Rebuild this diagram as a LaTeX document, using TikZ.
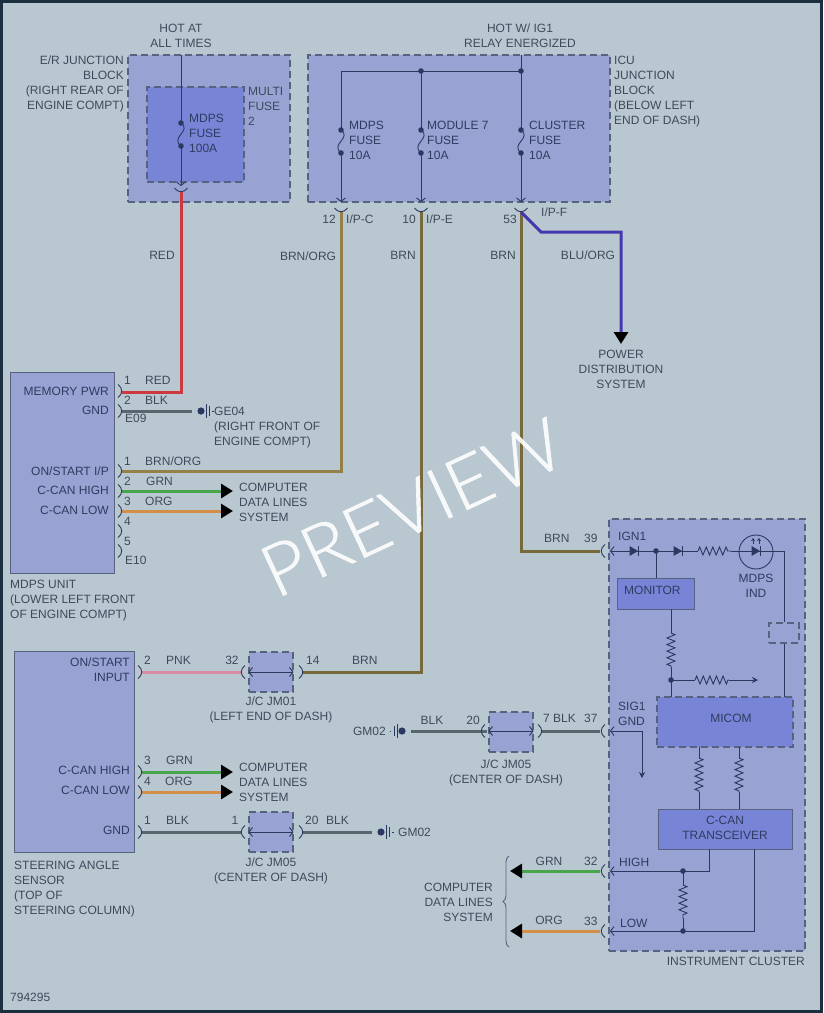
\documentclass[tikz,border=0pt]{standalone}
\usepackage{fontspec}
\setmainfont{Liberation Sans}
\newfontfamily\previewfont{Lato Light}[FakeStretch=1.05,FakeBold=0.8]
\usetikzlibrary{arrows.meta,decorations.pathmorphing,decorations.pathreplacing}
\definecolor{frameclr}{HTML}{1C2F3E}
\definecolor{panelclr}{HTML}{B9C8D0}
\definecolor{blockclr}{HTML}{98A3D4}
\definecolor{darkclr}{HTML}{7885D6}
\definecolor{edgeclr}{HTML}{56627F}
\definecolor{lineclr}{HTML}{2C3860}
\definecolor{txtclr}{HTML}{3E4A5C}
\definecolor{redclr}{HTML}{CC3A40}
\definecolor{blkclr}{HTML}{5A666E}
\definecolor{tanclr}{HTML}{958048}
\definecolor{brnclr}{HTML}{77693A}
\definecolor{bluclr}{HTML}{4438B0}
\definecolor{grnclr}{HTML}{47A64C}
\definecolor{orgclr}{HTML}{D48E48}
\definecolor{pnkclr}{HTML}{DA8CA4}
\tikzset{
  lab/.style={font=\fontsize{12}{15}\selectfont, text=txtclr, inner sep=0pt, text height=8.6pt, text depth=0pt, align=center},
  labl/.style={lab, anchor=west, align=left},
  labr/.style={lab, anchor=east, align=right},
  inbox/.style={text=lineclr!85!txtclr},
  dbox/.style={draw=edgeclr, line width=1.1pt, dash pattern=on 7pt off 4pt, fill=blockclr, inner sep=0pt},
  sbox/.style={draw=edgeclr, line width=1pt, fill=blockclr, inner sep=0pt},
  thinw/.style={draw=lineclr, line width=0.9pt},
  barb/.style={thinw, -{Straight Barb[length=3.5pt,width=9pt]}},
  dbarb/.style={thinw, {Straight Barb[length=3.5pt,width=9pt]}-{Straight Barb[length=3.5pt,width=9pt]}},
  wire/.style={line width=3pt},
  bigtip/.style={-{Triangle[length=12pt,width=14pt,color=black]}},
  resistor/.style={thinw, decorate, decoration={zigzag, amplitude=4pt, segment length=6.6pt}},
  cup/.pic={\draw[thinw] (-6.5,-2) .. controls (-3,3) and (3,3) .. (6.5,-2);},
  diode/.pic={\fill[lineclr] (-4.5,-5) -- (4,0) -- (-4.5,5) -- cycle; \draw[thinw] (4,-5) -- (4,5);},
  gnd/.pic={\fill[lineclr] (0,0) circle (3.6pt);
    \draw[thinw] (5,-7) -- (5,7); \draw[thinw] (8,-5) -- (8,5); \draw[thinw] (11,0) -- (12.5,0);},
}
\begin{document}
\begin{tikzpicture}[x=1pt,y=-1pt]
    \useasboundingbox (0,0) rectangle (823,1013);
    % Panel
    \fill[frameclr] (0,0) rectangle (823,1013);
    \fill[panelclr] (3,3) rectangle (820,1010);

    % Blocks
    \node[dbox, minimum width=162pt, minimum height=147pt] (erblock) at (209,128.5) {};
    \node[dbox, fill=darkclr, minimum width=97pt, minimum height=95pt] (multifuse) at (195.5,134.5) {};
    \node[dbox, minimum width=302pt, minimum height=147pt] (icublock) at (459,128.5) {};
    \node[sbox, minimum width=104pt, minimum height=201pt] (mdpsunit) at (62,472.5) {};
    \node[sbox, minimum width=120pt, minimum height=201pt] (sasensor) at (74.5,752) {};
    \node[dbox, minimum width=44pt, minimum height=40pt] (jm01) at (271,672) {};
    \node[dbox, minimum width=44pt, minimum height=40pt] (jm05a) at (271,832) {};
    \node[dbox, minimum width=44pt, minimum height=40pt] (jm05b) at (511,732) {};
    \node[dbox, minimum width=196pt, minimum height=432pt] (cluster) at (707,735) {};
    \node[sbox, fill=darkclr, minimum width=77pt, minimum height=31pt] (monitor) at (655.5,593.5) {};
    \node[dbox, minimum width=30pt, minimum height=20pt] (ledbox) at (784,633) {};
    \node[dbox, fill=darkclr, minimum width=136pt, minimum height=50pt] (micom) at (725,722) {};
    \node[sbox, fill=darkclr, minimum width=134pt, minimum height=40pt] (transceiver) at (725,829) {};
    \draw[lineclr, line width=0.9pt] (756,552) circle (17pt);

    % Points the wires run between
    \coordinate (erout) at (181,192);
    \coordinate (ipc) at (341,212);
    \coordinate (ipe) at (421,212);
    \coordinate (ipf) at (521,212);
    \coordinate (memory) at (122,392);
    \coordinate (gnde) at (122,411);
    \coordinate (onstart) at (122,471);
    \coordinate (canhi) at (122,491);
    \coordinate (canlo) at (122,511);
    \coordinate (sainput) at (142,672);
    \coordinate (sahi) at (142,772);
    \coordinate (salo) at (142,792);
    \coordinate (sagnd) at (142,832);
    \coordinate (pin39) at (600,551);
    \coordinate (pin37) at (600,731);
    \coordinate (pin32) at (600,871);
    \coordinate (pin33) at (600,931);
    \coordinate (jm01l) at (241,672);
    \coordinate (jm01r) at (303,672);
    \coordinate (jm05l) at (241,832);
    \coordinate (jm05r) at (303,832);
    \coordinate (jm05bl) at (487,731);
    \coordinate (jm05br) at (542,731);
    \coordinate (ge04) at (192,411);
    \coordinate (gm02a) at (411,731);
    \coordinate (gm02b) at (372,832);
    \coordinate (dataa) at (233,491);
    \coordinate (datab) at (233,511);
    \coordinate (datac) at (233,772);
    \coordinate (datad) at (233,792);
    \coordinate (datae) at (510,871);
    \coordinate (dataf) at (510,931);
    \coordinate (powerdist) at (621,344);

    % Wires
    \draw[wire, redclr] (erout) |- (memory);
    \draw[wire, blkclr] (gnde) -- (ge04);
    \draw[wire, tanclr] (ipc) |- (onstart);
    \draw[wire, brnclr] (ipe) |- (jm01r);
    \draw[wire, brnclr] (ipf) |- (pin39);
    \draw[wire, bluclr, bigtip] (ipf) -- (541,232) -| (powerdist);
    \draw[wire, grnclr, bigtip] (canhi) -- (dataa);
    \draw[wire, orgclr, bigtip] (canlo) -- (datab);
    \draw[wire, pnkclr] (sainput) -- (jm01l);
    \draw[wire, grnclr, bigtip] (sahi) -- (datac);
    \draw[wire, orgclr, bigtip] (salo) -- (datad);
    \draw[wire, blkclr] (sagnd) -- (jm05l);
    \draw[wire, blkclr] (jm05r) -- (gm02b);
    \draw[wire, blkclr] (gm02a) -- (jm05bl);
    \draw[wire, blkclr] (jm05br) -- (pin37);
    \draw[wire, grnclr, bigtip] (pin32) -- (datae);
    \draw[wire, orgclr, bigtip] (pin33) -- (dataf);

    % Fuses
    \foreach \fx/\fa/\ftop/\fend in {181/123/55/186, 341/130/71/202, 421/130/71/202, 521/130/55/202} {
      \draw[thinw] (\fx,\ftop) -- (\fx,\fa);
      \draw[barb] (\fx,\fa+23) -- (\fx,\fend);
      \draw[thinw] (\fx,\fa) .. controls (\fx+11,\fa+8) and (\fx-11,\fa+14) .. (\fx,\fa+23);
      \fill[lineclr] (\fx,\fa) circle (2.8pt) (\fx,\fa+23) circle (2.8pt);
    }
    \draw[thinw] (341,130) |- (521,71);
    \fill[lineclr] (421,71) circle (2.8pt) (521,71) circle (2.8pt);

    % Connector cups
    \foreach \cx/\cy in {181/190, 341/210, 421/210, 521/210}
      \pic at (\cx,\cy) {cup};
    \foreach \cy in {391,411,471,491,511,531,551}
      \pic[rotate=90] at (120,\cy) {cup};
    \foreach \cy in {672,772,792,832}
      \pic[rotate=90] at (140,\cy) {cup};
    \foreach \cx/\cy in {301/672, 301/832, 540/731}
      \pic[rotate=90] at (\cx,\cy) {cup};
    \foreach \cx/\cy in {243/672, 243/832, 483/731, 603/551, 603/731, 603/871, 603/931}
      \pic[rotate=-90] at (\cx,\cy) {cup};

    % Splices and grounds
    \draw[dbarb] (jm01.west) -- (jm01.east);
    \draw[dbarb] (jm05a.west) -- (jm05a.east);
    \draw[dbarb] ([yshift=1pt]jm05b.west) -- ([yshift=1pt]jm05b.east);
    \pic at (201,411) {gnd};
    \pic at (381,832) {gnd};
    \pic[xscale=-1] at (402,731) {gnd};

    % Inside the cluster
    \coordinate (ign) at (610,551);
    \coordinate (sig) at (610,731);
    \coordinate (high) at (610,871);
    \coordinate (low) at (610,931);
    \draw[barb] (656,551) -- (ign);
    \draw[thinw] (656,551) -- (698,551);
    \draw[resistor] (698,551) -- (731,551);
    \draw[thinw] (731,551) -- (784,551) -- (ledbox.north);
    \draw[thinw] (ledbox.south) -- (784,697);
    \pic at (634,551) {diode};
    \pic at (678,551) {diode};
    \pic at (756,551) {diode};
    \fill[lineclr] (656,551) circle (2.8pt);
    \draw[thinw] (656,551) -- (656,578);
    \foreach \ax in {753,759}
      \draw[thinw, -{Stealth[length=3pt,width=4pt]}] (\ax,544) -- (\ax,538);
    \draw[thinw] (671,609) -- (671,633);
    \draw[resistor] (671,633) -- (671,667);
    \draw[thinw] (671,667) -- (671,697);
    \fill[lineclr] (671,680) circle (2.8pt);
    \draw[thinw] (671,680) -- (695,680);
    \draw[resistor] (695,680) -- (729,680);
    \draw[thinw, -{Stealth[length=6pt,width=6pt]}] (729,680) -- (758,680);
    \draw[barb] (642,731) -- (sig);
    \draw[thinw, -{Stealth[length=6pt,width=6pt]}] (642,731) -- (642,778);
    \foreach \rx in {699,739} {
      \draw[thinw] (\rx,747) -- (\rx,758);
      \draw[resistor] (\rx,758) -- (\rx,792);
      \draw[thinw] (\rx,792) -- (\rx,809);
    }
    \draw[barb] (709,849) |- (high);
    \draw[barb] (754,849) |- (low);
    \draw[thinw] (683,871) -- (683,885);
    \draw[resistor] (683,885) -- (683,918);
    \draw[thinw] (683,918) -- (683,931);
    \fill[lineclr] (683,871) circle (2.8pt) (683,931) circle (2.8pt);
    \draw[thinw, edgeclr, decorate, decoration={brace, amplitude=6pt}] (509,947) -- (509,856);

    % Labels, top (a stack of lines is placed by its last line)
    \node[lab] (hotat) at (181,43) {HOT AT\\ALL TIMES};
    \node[labr] (erlabel) at (124,105) {E/R JUNCTION\\BLOCK\\(RIGHT REAR OF\\ENGINE COMPT)};
    \node[labl] (multilabel) at (248,121) {MULTI\\FUSE\\2};
    \node[lab] (hotig) at (520,43) {HOT W/ IG1\\RELAY ENERGIZED};
    \node[labl] (iculabel) at (614,120) {ICU\\JUNCTION\\BLOCK\\(BELOW LEFT\\END OF DASH)};
    \node[labl, inbox] (fusea) at (189,148) {MDPS\\FUSE\\100A};
    \node[labl, inbox] (fuseb) at (349,155) {MDPS\\FUSE\\10A};
    \node[labl, inbox] (fusec) at (427,155) {MODULE 7\\FUSE\\10A};
    \node[labl, inbox] (fused) at (529,155) {CLUSTER\\FUSE\\10A};
    \node[labr] (p12) at (336,219) {12};
    \node[labl] (ipclab) at (346,219) {I/P-C};
    \node[labr] (p10) at (416,219) {10};
    \node[labl] (ipelab) at (426,219) {I/P-E};
    \node[labr] (p53) at (517,219) {53};
    \node[labl] (ipflab) at (541,212) {I/P-F};
    \node[lab] (wred) at (162,255) {RED};
    \node[lab] (wbrnorg) at (308,256) {BRN/ORG};
    \node[lab] (wbrna) at (403,255) {BRN};
    \node[lab] (wbrnb) at (503,255) {BRN};
    \node[lab] (wbluorg) at (588,255) {BLU/ORG};
    \node[lab] (powerlab) at (621,384) {POWER\\DISTRIBUTION\\SYSTEM};

    % Labels, MDPS unit
    \node[labr, inbox] (t1) at (109,391) {MEMORY PWR};
    \node[labr, inbox] (t2) at (109,410) {GND};
    \node[labr, inbox] (t3) at (109,471) {ON/START I/P};
    \node[labr, inbox] (t4) at (109,490) {C-CAN HIGH};
    \node[labr, inbox] (t5) at (109,510) {C-CAN LOW};
    \foreach \pn/\py in {1/380,2/400,1/461,2/481,3/501,4/521,5/541}
      \node[labl] (pin\py) at (124,\py) {\pn};
    \node[labl] (e09) at (125,418) {E09};
    \node[labl] (e10) at (125,560) {E10};
    \node[labl] (c1) at (145,380) {RED};
    \node[labl] (c2) at (145,400) {BLK};
    \node[labl] (c3) at (145,461) {BRN/ORG};
    \node[labl] (c4) at (146,481) {GRN};
    \node[labl] (c5) at (145,501) {ORG};
    \node[labl] (ge04lab) at (214,441) {GE04\\(RIGHT FRONT OF\\ENGINE COMPT)};
    \node[labl] (dataone) at (239,517) {COMPUTER\\DATA LINES\\SYSTEM};
    \node[labl] (mdpslab) at (10,614) {MDPS UNIT\\(LOWER LEFT FRONT\\OF ENGINE COMPT)};

    % Labels, steering angle sensor
    \node[labr, inbox] (s1) at (130,677) {ON/START\\INPUT};
    \node[labr, inbox] (s2) at (130,770) {C-CAN HIGH};
    \node[labr, inbox] (s3) at (130,790) {C-CAN LOW};
    \node[labr, inbox] (s4) at (130,830) {GND};
    \foreach \pn/\py in {2/660,3/760,4/781,1/820}
      \node[labl] (sp\py) at (144,\py) {\pn};
    \node[labl] (w1) at (166,660) {PNK};
    \node[labl] (w2) at (166,760) {GRN};
    \node[labl] (w3) at (165,781) {ORG};
    \node[labl] (w4) at (166,820) {BLK};
    \node[lab] (j32) at (232,660) {32};
    \node[lab] (j1) at (235,820) {1};
    \node[labl] (j14) at (306,660) {14};
    \node[labl] (w5) at (352,660) {BRN};
    \node[labl] (j20) at (305,820) {20};
    \node[labl] (w6) at (326,820) {BLK};
    \node[lab] (jm01lab) at (271,716) {J/C JM01\\(LEFT END OF DASH)};
    \node[lab] (jm05lab) at (271,877) {J/C JM05\\(CENTER OF DASH)};
    \node[labl] (datatwo) at (239,797) {COMPUTER\\DATA LINES\\SYSTEM};
    \node[labl] (gm02lab) at (398,832) {GM02};
    \node[labl] (salab) at (14,910) {STEERING ANGLE\\SENSOR\\(TOP OF\\STEERING COLUMN)};

    % Labels, instrument cluster
    \node[labl] (w7) at (544,538) {BRN};
    \node[labl] (p39) at (584,538) {39};
    \node[labl, inbox] (ign1) at (618,536) {IGN1};
    \node[lab, inbox] (lamplab) at (756,593) {MDPS\\IND};
    \node[labl, inbox] (monlab) at (624,590) {MONITOR};
    \node[lab, inbox] (miclab) at (731,718) {MICOM};
    \node[lab, inbox] (canlab) at (725,835) {C-CAN\\TRANSCEIVER};
    \node[labl, inbox] (siglab) at (618,721) {SIG1\\ GND};
    \node[labr] (gm02c) at (386,731) {GM02};
    \node[lab] (w8) at (432,720) {BLK};
    \node[lab] (j20b) at (473,720) {20};
    \node[labl] (j7) at (543,718) {7 BLK};
    \node[labl] (p37) at (584,718) {37};
    \node[lab] (jm05lab2) at (506,779) {J/C JM05\\(CENTER OF DASH)};
    \node[lab] (w9) at (549,861) {GRN};
    \node[lab] (w10) at (549,920) {ORG};
    \node[labl] (p32) at (584,861) {32};
    \node[labl] (p33) at (584,921) {33};
    \node[labl, inbox] (hilab) at (619,862) {HIGH};
    \node[labl, inbox] (lolab) at (620,923) {LOW};
    \node[labr] (datathree) at (493,917) {COMPUTER\\DATA LINES\\SYSTEM};
    \node[labr] (cluslab) at (805,961) {INSTRUMENT CLUSTER};
    \node[labl] (partno) at (10,997) {794295};

    % Watermark
    \node[inner sep=0pt, text=white, opacity=0.88, rotate=25, anchor=base west,
      font=\fontsize{72}{72}\selectfont\previewfont] (preview) at (276,599) {PREVIEW};
\end{tikzpicture}
\end{document}
